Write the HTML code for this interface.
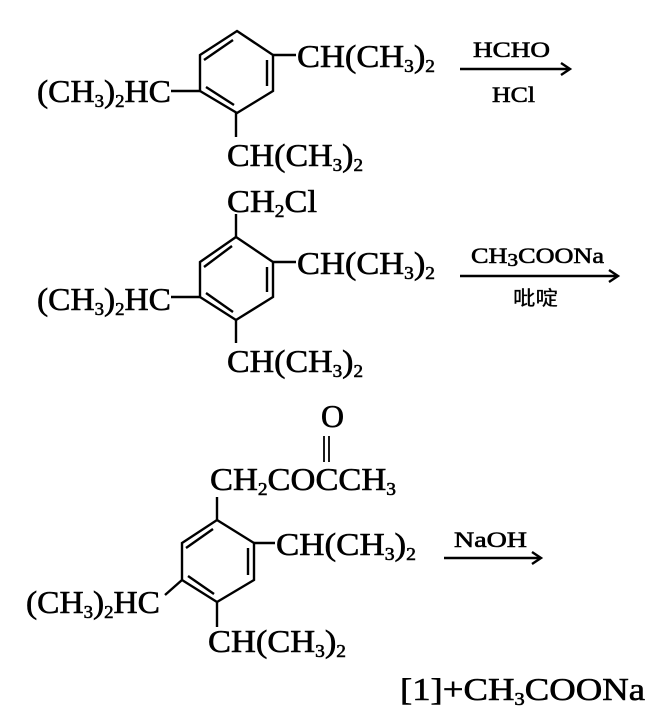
<!DOCTYPE html>
<html><head><meta charset="utf-8"><style>
html,body{margin:0;padding:0;background:#fff;}
svg{display:block;}
text{font-family:"Liberation Serif","Noto Serif CJK SC",serif;font-size:32px;fill:#000;stroke:#000;stroke-width:0.6;}
.s{font-size:18px;}
.r{font-size:22px;}
line,polyline,polygon{stroke:#000;stroke-width:2.4;fill:none;}
</style></head><body>
<svg width="651" height="706" viewBox="0 0 651 706" xmlns="http://www.w3.org/2000/svg">
<!-- Molecule 1 -->
<polygon points="237,31 273,55 273,91 237,113 200,91 200,55"/>
<line x1="204" y1="60" x2="233" y2="40"/>
<line x1="267" y1="60" x2="267" y2="86"/>
<line x1="206" y1="87" x2="234" y2="105"/>
<line x1="171" y1="91" x2="200" y2="91"/>
<line x1="273" y1="55" x2="296" y2="55"/>
<line x1="236" y1="113" x2="236" y2="137"/>
<text x="37" y="102" textLength="134" lengthAdjust="spacingAndGlyphs">(CH<tspan class="s" dy="5">3</tspan><tspan dy="-5">)</tspan><tspan class="s" dy="5">2</tspan><tspan dy="-5">HC</tspan></text>
<text x="297" y="67" textLength="138" lengthAdjust="spacingAndGlyphs">CH(CH<tspan class="s" dy="5">3</tspan><tspan dy="-5">)</tspan><tspan class="s" dy="5">2</tspan></text>
<text x="227" y="166" textLength="136" lengthAdjust="spacingAndGlyphs">CH(CH<tspan class="s" dy="5">3</tspan><tspan dy="-5">)</tspan><tspan class="s" dy="5">2</tspan></text>
<line x1="460" y1="69" x2="569" y2="69"/>
<polyline points="561,63 570,69 561,75"/>
<text class="r" x="473" y="57" textLength="77" lengthAdjust="spacingAndGlyphs">HCHO</text>
<text class="r" x="492" y="102" textLength="43" lengthAdjust="spacingAndGlyphs">HCl</text>

<!-- Molecule 2 -->
<text x="227" y="212" textLength="90" lengthAdjust="spacingAndGlyphs">CH<tspan class="s" dy="5">2</tspan><tspan dy="-5">Cl</tspan></text>
<line x1="236" y1="214" x2="236" y2="237"/>
<polygon points="236,237 273,262 273,297 236,320 200,297 200,262"/>
<line x1="204" y1="267" x2="232" y2="246"/>
<line x1="267" y1="267" x2="267" y2="292"/>
<line x1="206" y1="293" x2="233" y2="312"/>
<line x1="273" y1="262" x2="296" y2="262"/>
<line x1="171" y1="297" x2="200" y2="297"/>
<line x1="236" y1="320" x2="236" y2="343"/>
<text x="297" y="274" textLength="138" lengthAdjust="spacingAndGlyphs">CH(CH<tspan class="s" dy="5">3</tspan><tspan dy="-5">)</tspan><tspan class="s" dy="5">2</tspan></text>
<text x="37" y="310" textLength="134" lengthAdjust="spacingAndGlyphs">(CH<tspan class="s" dy="5">3</tspan><tspan dy="-5">)</tspan><tspan class="s" dy="5">2</tspan><tspan dy="-5">HC</tspan></text>
<text x="227" y="372" textLength="136" lengthAdjust="spacingAndGlyphs">CH(CH<tspan class="s" dy="5">3</tspan><tspan dy="-5">)</tspan><tspan class="s" dy="5">2</tspan></text>
<line x1="460" y1="276" x2="617" y2="276"/>
<polyline points="609,270 618,276 609,282"/>
<text class="r" x="471" y="263" textLength="133" lengthAdjust="spacingAndGlyphs">CH<tspan class="s" dy="3">3</tspan><tspan dy="-3">COONa</tspan></text>
<text class="r" x="513" y="305" textLength="45" lengthAdjust="spacingAndGlyphs" style="font-family:'Noto Sans CJK SC',sans-serif;font-size:20px;stroke-width:0.3">吡啶</text>

<!-- Molecule 3 -->
<text x="321" y="427" textLength="23" lengthAdjust="spacingAndGlyphs">O</text>
<line x1="324" y1="436" x2="324" y2="462" style="stroke-width:1.8"/>
<line x1="329" y1="436" x2="329" y2="462" style="stroke-width:1.8"/>
<text x="210" y="490" textLength="186" lengthAdjust="spacingAndGlyphs">CH<tspan class="s" dy="5">2</tspan><tspan dy="-5">COCCH</tspan><tspan class="s" dy="5">3</tspan></text>
<line x1="217" y1="497" x2="217" y2="520"/>
<polygon points="217,520 254,543 254,580 217,602 182,580 182,543"/>
<line x1="186" y1="548" x2="213" y2="529"/>
<line x1="248" y1="548" x2="248" y2="575"/>
<line x1="188" y1="576" x2="214" y2="594"/>
<line x1="254" y1="543" x2="275" y2="543"/>
<line x1="165" y1="595" x2="182" y2="580"/>
<line x1="217" y1="602" x2="217" y2="627"/>
<text x="276" y="555" textLength="140" lengthAdjust="spacingAndGlyphs">CH(CH<tspan class="s" dy="5">3</tspan><tspan dy="-5">)</tspan><tspan class="s" dy="5">2</tspan></text>
<text x="26" y="613" textLength="134" lengthAdjust="spacingAndGlyphs">(CH<tspan class="s" dy="5">3</tspan><tspan dy="-5">)</tspan><tspan class="s" dy="5">2</tspan><tspan dy="-5">HC</tspan></text>
<text x="208" y="652" textLength="138" lengthAdjust="spacingAndGlyphs">CH(CH<tspan class="s" dy="5">3</tspan><tspan dy="-5">)</tspan><tspan class="s" dy="5">2</tspan></text>
<line x1="444" y1="558" x2="540" y2="558"/>
<polyline points="532,552 541,558 532,564"/>
<text class="r" x="454" y="547" textLength="73" lengthAdjust="spacingAndGlyphs">NaOH</text>
<text x="400" y="700" textLength="245" lengthAdjust="spacingAndGlyphs">[1]+CH<tspan class="s" dy="5">3</tspan><tspan dy="-5">COONa</tspan></text>
</svg>
</body></html>
